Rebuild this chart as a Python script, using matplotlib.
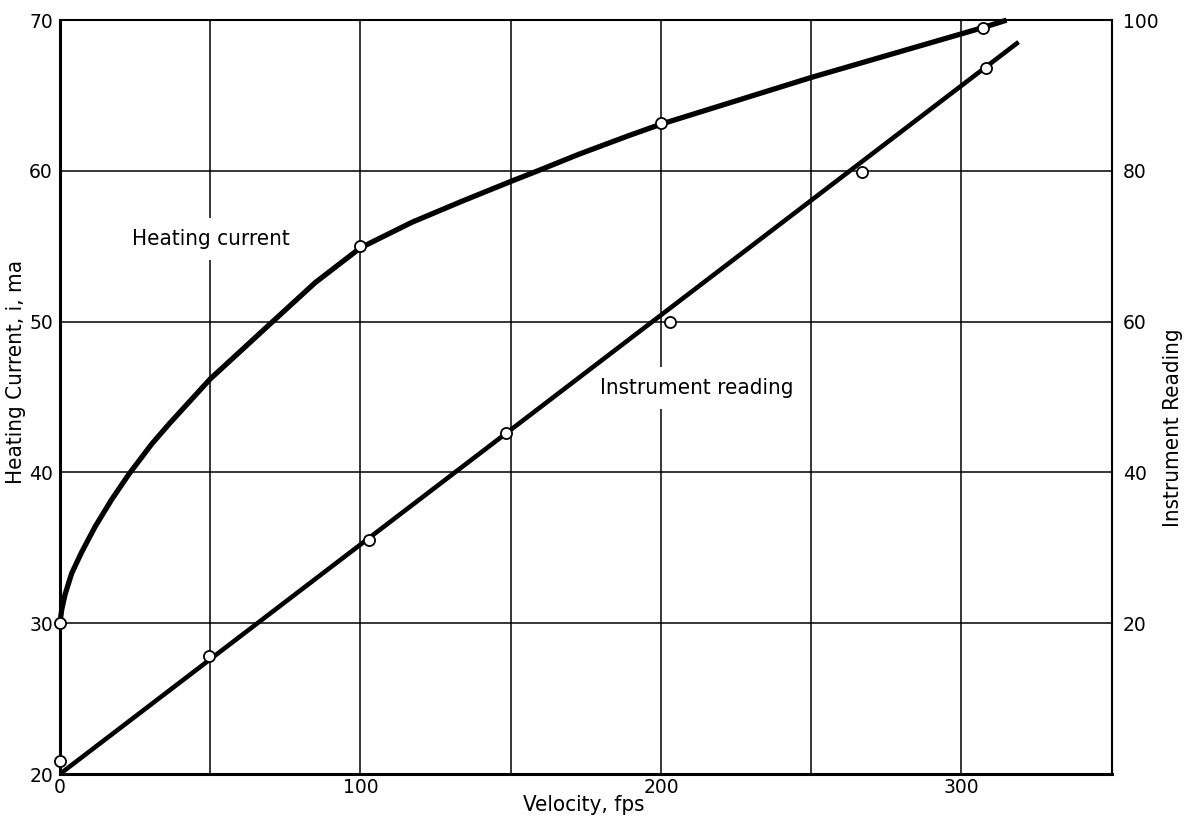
import matplotlib
matplotlib.use('Agg')
import matplotlib.pyplot as plt

# Heating current curve (velocity fps, current ma)
curve_v = [0, 0.6, 1.7, 3.9, 7.2, 11.7, 17.2, 23, 30.6, 36.7, 50, 71.3, 85, 100,
           117.2, 133.9, 150, 158.3, 172.6, 189.4, 200, 250, 307, 315]
curve_i = [30, 30.9, 31.9, 33.3, 34.7, 36.4, 38.2, 39.9, 41.9, 43.3, 46.2, 50.1, 52.6, 54.9,
           56.6, 58.0, 59.3, 59.95, 61.1, 62.35, 63.1, 66.2, 69.5, 70.0]

# measured heating current points
heat_v = [0, 100, 200, 307]
heat_i = [30, 55, 63.2, 69.5]

# instrument reading line and points (right axis)
inst_line_v = [0, 319]
inst_line_r = [0, 97.1]
inst_v = [0, 49.5, 102.7, 148.5, 203, 267, 308]
inst_r = [1.7, 15.6, 31.1, 45.2, 59.9, 79.9, 93.6]

left_ticks = [20, 30, 40, 50, 60, 70]
right_ticks = [20, 40, 60, 80, 100]
x_ticks = [0, 50, 100, 150, 200, 250, 300]
x_ticklabels = ['0', '', '100', '', '200', '', '300']

LETTER = dict(family=['DejaVu Sans Condensed', 'DejaVu Sans'], stretch='condensed', fontsize=16)

fig = plt.figure(figsize=(11.98, 8.23), dpi=100)
ax = fig.add_axes([0.050, 0.0595, 0.878, 0.916])
ax2 = ax.twinx()

ax.set_xlim(0, 350)
ax.set_ylim(20, 70)
ax2.set_ylim(0, 100)

ax.set_xticks(x_ticks)
ax.set_xticklabels(x_ticklabels)
ax.set_yticks(left_ticks)
ax2.set_yticks(right_ticks)

ax.grid(True, color='black', linewidth=1.1, zorder=0)
ax.set_axisbelow(True)

ax.tick_params(axis='x', length=0, labelsize=13.5, pad=3)
ax.tick_params(axis='y', length=0, labelsize=13.5, pad=5)
ax2.tick_params(axis='y', length=0, labelsize=13.5, pad=8)

for side, lw in [('left', 2.2), ('bottom', 2.2), ('top', 1.5), ('right', 1.5)]:
    ax.spines[side].set_linewidth(lw)
for s in ax2.spines.values():
    s.set_visible(False)

ax.plot(curve_v, curve_i, color='black', linewidth=3.8, solid_capstyle='butt',
        solid_joinstyle='round', zorder=3, clip_on=False)
ax.plot(heat_v, heat_i, 'o', markersize=8, markerfacecolor='white',
        markeredgecolor='black', markeredgewidth=1.3, zorder=4, clip_on=False)

ax2.plot(inst_line_v, inst_line_r, color='black', linewidth=3.3, solid_capstyle='butt', zorder=3)
ax2.plot(inst_v, inst_r, 'o', markersize=8, markerfacecolor='white',
         markeredgecolor='black', markeredgewidth=1.3, zorder=4, clip_on=False)

box = dict(facecolor='white', edgecolor='none', pad=8)
ax.text(50.2, 55.5, 'Heating current', ha='center', va='center', bbox=box, zorder=2, **LETTER)
ax2.text(212, 51.2, 'Instrument reading', ha='center', va='center', bbox=box, zorder=2, **LETTER)

ax.set_xlabel('Velocity, fps', **LETTER)
ax.xaxis.set_label_coords(0.498, -0.028)
ax.set_ylabel('Heating Current, i, ma', **LETTER)
ax.yaxis.set_label_coords(-0.032, 0.533)
ax2.set_ylabel('Instrument Reading', **LETTER)
ax2.yaxis.set_label_coords(1.049, 0.459)

fig.savefig('out.png', dpi=100)
